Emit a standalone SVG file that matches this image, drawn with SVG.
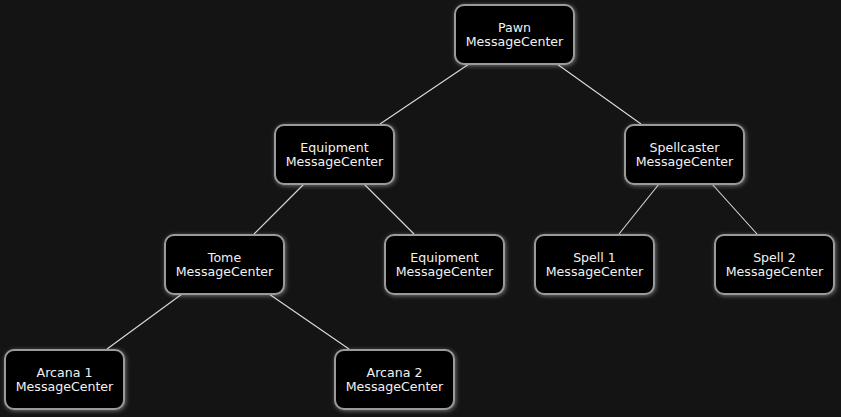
<svg xmlns="http://www.w3.org/2000/svg" width="841" height="417" viewBox="0 0 841 417">
<defs>
<filter id="glow" x="-20%" y="-30%" width="140%" height="160%">
<feGaussianBlur in="SourceAlpha" stdDeviation="2"/>
<feOffset dx="1" dy="1" result="b"/>
<feFlood flood-color="#bbbbbb" flood-opacity="0.55"/>
<feComposite in2="b" operator="in" result="s"/>
<feMerge><feMergeNode in="s"/><feMergeNode in="SourceGraphic"/></feMerge>
</filter>
<style>
.box{fill:#000;stroke:#9a9a9a;stroke-width:2;filter:url(#glow)}
.t{font-family:"DejaVu Sans",Verdana,sans-serif;font-size:12.6px;fill:#f2f2f2;text-anchor:middle}
.e{stroke:#dcdcdc;stroke-width:1.1;fill:none}
</style>
</defs>
<rect width="841" height="417" fill="#141414"/>
<g id="connectors">
<line class="e" x1="469" y1="64" x2="380" y2="124"/>
<line class="e" x1="557" y1="64" x2="641" y2="124"/>
<line class="e" x1="304" y1="184" x2="254" y2="234"/>
<line class="e" x1="364" y1="184" x2="414" y2="234"/>
<line class="e" x1="659" y1="184" x2="619" y2="234"/>
<line class="e" x1="712" y1="184" x2="757" y2="234"/>
<line class="e" x1="182" y1="294" x2="107" y2="349"/>
<line class="e" x1="269" y1="294" x2="349" y2="349"/>
</g>
<g id="pawn"><rect class="box" x="455" y="5" width="119" height="59" rx="9"/><text class="t" x="514.5" y="31.7">Pawn</text><text class="t" x="514.5" y="45.7">MessageCenter</text></g>
<g id="equipment"><rect class="box" x="275" y="125" width="119" height="59" rx="9"/><text class="t" x="334.5" y="151.7">Equipment</text><text class="t" x="334.5" y="165.7">MessageCenter</text></g>
<g id="spellcaster"><rect class="box" x="625" y="125" width="119" height="59" rx="9"/><text class="t" x="684.5" y="151.7">Spellcaster</text><text class="t" x="684.5" y="165.7">MessageCenter</text></g>
<g id="tome"><rect class="box" x="165" y="235" width="119" height="59" rx="9"/><text class="t" x="224.5" y="261.7">Tome</text><text class="t" x="224.5" y="275.7">MessageCenter</text></g>
<g id="equipment2"><rect class="box" x="385" y="235" width="119" height="59" rx="9"/><text class="t" x="444.5" y="261.7">Equipment</text><text class="t" x="444.5" y="275.7">MessageCenter</text></g>
<g id="spell1"><rect class="box" x="535" y="235" width="119" height="59" rx="9"/><text class="t" x="594.5" y="261.7">Spell 1</text><text class="t" x="594.5" y="275.7">MessageCenter</text></g>
<g id="spell2"><rect class="box" x="715" y="235" width="119" height="59" rx="9"/><text class="t" x="774.5" y="261.7">Spell 2</text><text class="t" x="774.5" y="275.7">MessageCenter</text></g>
<g id="arcana1"><rect class="box" x="5" y="350" width="119" height="59" rx="9"/><text class="t" x="64.5" y="376.7">Arcana 1</text><text class="t" x="64.5" y="390.7">MessageCenter</text></g>
<g id="arcana2"><rect class="box" x="335" y="350" width="119" height="59" rx="9"/><text class="t" x="394.5" y="376.7">Arcana 2</text><text class="t" x="394.5" y="390.7">MessageCenter</text></g>
</svg>
